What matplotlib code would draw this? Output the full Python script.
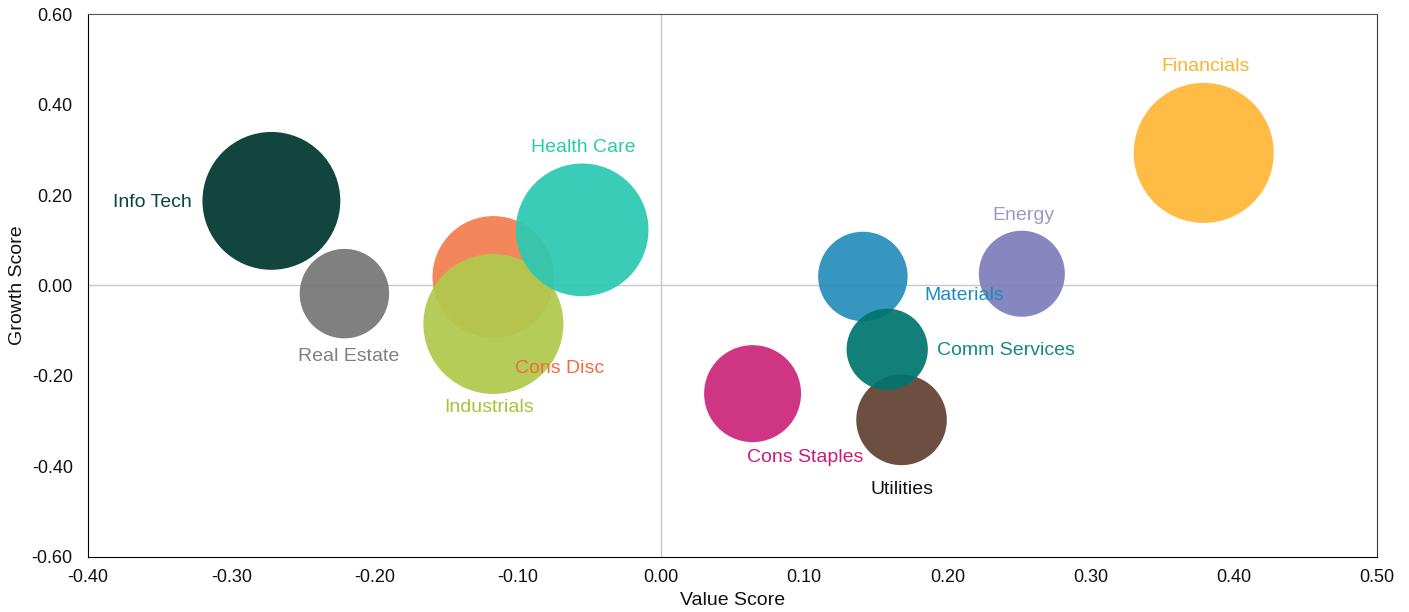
import matplotlib
matplotlib.use("Agg")
import matplotlib.pyplot as plt

plt.rcParams['font.family'] = ['Liberation Sans', 'DejaVu Sans']

# sector scores and relative bubble weights
sectors = ["Info Tech", "Real Estate", "Cons Disc", "Industrials", "Health Care",
           "Materials", "Energy", "Financials", "Utilities", "Comm Services", "Cons Staples"]
value_score = [-0.272, -0.221, -0.117, -0.117, -0.055,
               0.141, 0.252, 0.379, 0.168, 0.158, 0.064]
growth_score = [0.187, -0.018, 0.019, -0.085, 0.123,
                0.020, 0.026, 0.293, -0.297, -0.141, -0.239]
weight = [9.5, 4.0, 7.4, 9.8, 8.8, 4.0, 3.7, 9.8, 4.1, 3.3, 4.7]

bubble_colors = ["#00372F", "#767676", "#F37E4E", "#B0C94B", "#2BC9B2",
                 "#268EBB", "#7F7DB9", "#FFB636", "#624233", "#00756E", "#CB267B"]
label_colors = ["#08453F", "#808080", "#F26B3A", "#A8C23A", "#2BCBAA",
                "#1A8BC0", "#9A98CC", "#FDB22F", "#111111", "#138A84", "#CC1A78"]

# label offsets in points relative to bubble centre, with alignment
label_pos = {
    "Info Tech": (-57, -1, "right"),
    "Real Estate": (3, -45, "center"),
    "Cons Disc": (48, -66, "center"),
    "Industrials": (-3, -60, "center"),
    "Health Care": (1, 59, "center"),
    "Materials": (73, -14, "center"),
    "Energy": (1, 42, "center"),
    "Financials": (1, 62, "center"),
    "Utilities": (0, -50, "center"),
    "Comm Services": (36, -1, "left"),
    "Cons Staples": (38, -46, "center"),
}

fig = plt.figure(figsize=(14.09, 6.12), dpi=100)
ax = fig.add_axes([0.0625, 0.0899, 0.9148, 0.8872])

ax.axhline(0, color="#C8C8C8", lw=1, zorder=0)
ax.axvline(0, color="#C8C8C8", lw=1, zorder=0)

for i, name in enumerate(sectors):
    ax.scatter(value_score[i], growth_score[i], s=weight[i] * 1037,
               color=bubble_colors[i], alpha=0.93, edgecolors="none", zorder=2)
    dx, dy, ha = label_pos[name]
    ax.annotate(name, (value_score[i], growth_score[i]), xytext=(dx, dy),
                textcoords="offset points", ha=ha, va="center",
                fontsize=14, color=label_colors[i], zorder=3)

ax.set_xlim(-0.4, 0.5)
ax.set_ylim(-0.6, 0.6)
ax.set_xticks([-0.4, -0.3, -0.2, -0.1, 0.0, 0.1, 0.2, 0.3, 0.4, 0.5])
ax.set_yticks([-0.6, -0.4, -0.2, 0.0, 0.2, 0.4, 0.6])
ax.xaxis.set_major_formatter(matplotlib.ticker.FormatStrFormatter("%.2f"))
ax.yaxis.set_major_formatter(matplotlib.ticker.FormatStrFormatter("%.2f"))
ax.tick_params(axis="x", length=0, pad=9, labelsize=13, colors="#111111")
ax.tick_params(axis="y", length=0, pad=11, labelsize=13, colors="#111111")

ax.spines["left"].set_color("black")
ax.spines["bottom"].set_color("black")
ax.spines["top"].set_color("#555555")
ax.spines["right"].set_color("#333333")

ax.set_xlabel("Value Score", fontsize=14, labelpad=4, color="#111111")
ax.set_ylabel("Growth Score", fontsize=14, labelpad=4, color="#111111")

fig.savefig("out.png", dpi=100)
